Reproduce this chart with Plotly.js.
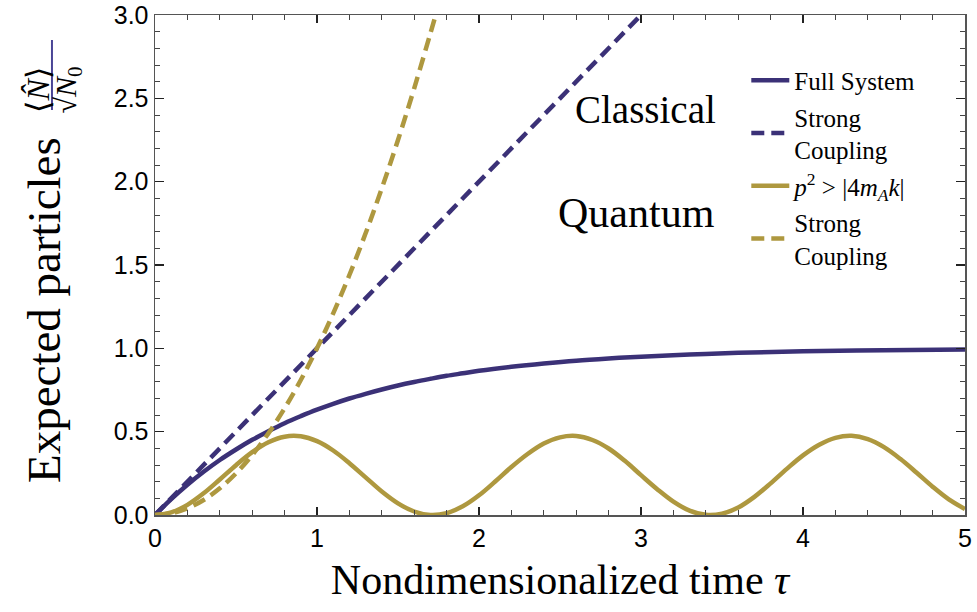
<!DOCTYPE html>
<html>
<head>
<meta charset="utf-8">
<script src="https://cdn.plot.ly/plotly-3.0.1.min.js"></script>
<style>html,body{margin:0;padding:0;background:#fff;}#chart{width:977px;height:612px;}</style>
</head>
<body>
<div id="chart"></div>
<script>
// Full system (classical)
const tauFull = [0,0.1,0.2,0.3,0.4,0.5,0.6,0.7,0.8,0.9,1.0,1.1,1.2,1.3,1.4,1.5,1.6,1.7,1.8,1.9,2.0,2.2,2.4,2.6,2.8,3.0,3.3,3.6,4.0,4.5,5.0];
const nFull   = [0,0.095,0.181,0.259,0.330,0.393,0.451,0.503,0.551,0.593,0.632,0.667,0.699,0.727,0.753,0.777,0.798,0.817,0.835,0.850,0.865,0.889,0.909,0.926,0.939,0.950,0.963,0.973,0.982,0.989,0.993];
// Classical strong coupling
const tauClassStrong = [0,3];
const nClassStrong   = [0,3];
// Quantum p^2 > |4 m_A k|
const tauQuant = [0,0.1,0.2,0.3,0.4,0.5,0.6,0.7,0.8,0.9,1.0,1.1,1.2,1.3,1.4,1.5,1.6,1.7,1.8,1.9,2.0,2.1,2.2,2.3,2.4,2.5,2.6,2.7,2.8,2.9,3.0,3.1,3.2,3.3,3.4,3.5,3.6,3.7,3.8,3.9,4.0,4.1,4.2,4.3,4.4,4.5,4.6,4.7,4.8,4.9,5.0];
const nQuant   = [0,0.016,0.061,0.130,0.213,0.299,0.377,0.437,0.470,0.472,0.443,0.387,0.311,0.226,0.141,0.070,0.021,0.000,0.011,0.052,0.118,0.201,0.288,0.366,0.429,0.466,0.474,0.450,0.399,0.325,0.239,0.155,0.080,0.026,0.001,0.008,0.045,0.109,0.190,0.277,0.358,0.422,0.463,0.475,0.455,0.407,0.337,0.255,0.170,0.094,0.036];
// Quantum strong coupling
const tauQuantStrong = [0,0.1,0.2,0.3,0.4,0.5,0.6,0.7,0.8,0.9,1.0,1.1,1.2,1.3,1.4,1.5,1.6,1.7,1.75];
const nQuantStrong   = [0,0.01,0.04,0.09,0.16,0.25,0.36,0.49,0.64,0.81,1.0,1.21,1.44,1.69,1.96,2.25,2.56,2.89,3.06];

const seriesNames = ['Full System', 'Strong<br>Coupling', '<i>p</i><sup>2</sup> > |4<i>m</i><sub><i>A</i></sub><i>k</i>|', 'Strong<br>Coupling'];

const xTicks = [0,1,2,3,4,5];
const yTicks = [0,0.5,1,1.5,2,2.5,3];
const yTickText = ['0.0','0.5','1.0','1.5','2.0','2.5','3.0'];

const navy = '#3b3177';
const gold = '#ae983f';
const serif = 'Liberation Serif';

const traces = [
  {x: tauFull, y: nFull, mode:'lines', line:{color:navy, width:4.5, shape:'spline'}, name:seriesNames[0], legendgroup:'a'},
  {x: tauClassStrong, y: nClassStrong, mode:'lines', line:{color:navy, width:4.5, dash:'13px,7px'}, name:seriesNames[1], legendgroup:'b'},
  {x: tauQuant, y: nQuant, mode:'lines', line:{color:gold, width:4.5, shape:'spline'}, name:seriesNames[2], legendgroup:'c'},
  {x: tauQuantStrong, y: nQuantStrong, mode:'lines', line:{color:gold, width:4.5, dash:'13px,7px', shape:'spline'}, name:seriesNames[3], legendgroup:'d'}
];

const axisCommon = {
  showgrid:false, zeroline:false, showline:true, linecolor:'#555', linewidth:1.5,
  mirror:'ticks', ticks:'inside', tickcolor:'#222', tickwidth:1.2,
  tickfont:{family:'Liberation Sans', size:25, color:'#000'}
};

const layout = {
  width:977, height:612,
  margin:{l:155, r:12, t:15, b:97},
  paper_bgcolor:'#fff', plot_bgcolor:'#fff',
  font:{family:serif, size:25, color:'#000'},
  showlegend:true,
  legend:{x:0.73, y:0.915, xanchor:'left', yanchor:'top', bgcolor:'rgba(0,0,0,0)',
          font:{family:serif, size:25, color:'#000'}, tracegroupgap:1, itemwidth:38, valign:'middle'},
  xaxis: Object.assign({}, axisCommon, {
    range:[0,5], tickvals:xTicks, ticklen:8,
    minor:{dtick:0.2, ticklen:5, ticks:'inside', tickcolor:'#444', tickwidth:1},
    title:{text:'Nondimensionalized time <i>τ</i>', font:{family:serif, size:42, color:'#000'}, standoff:14}
  }),
  yaxis: Object.assign({}, axisCommon, {
    range:[0,3], tickvals:yTicks, ticktext:yTickText, ticklen:9,
    minor:{dtick:0.1, ticklen:5, ticks:'inside', tickcolor:'#444', tickwidth:1}
  }),
  annotations:[
    {text:'Classical', xref:'paper', yref:'paper', x:0.605, y:0.81, xanchor:'center', yanchor:'middle', showarrow:false, font:{family:serif, size:39, color:'#000'}},
    {text:'Quantum', xref:'paper', yref:'paper', x:0.594, y:0.604, xanchor:'center', yanchor:'middle', showarrow:false, font:{family:serif, size:42, color:'#000'}},
    {text:'Expected particles', xref:'paper', yref:'paper', x:-0.137, y:0.41, xanchor:'center', yanchor:'middle', textangle:-90, showarrow:false, font:{family:serif, size:47, color:'#000'}},
    {text:'⟨<i>N̂</i>⟩', xref:'paper', yref:'paper', x:-0.145, y:0.85, xanchor:'center', yanchor:'middle', textangle:-90, showarrow:false, font:{family:serif, size:32, color:'#000'}},
    {text:'√<i>N</i><sub>0</sub>', xref:'paper', yref:'paper', x:-0.108, y:0.85, xanchor:'center', yanchor:'middle', textangle:-90, showarrow:false, font:{family:serif, size:30, color:'#000'}}
  ],
  shapes:[
    {type:'line', xref:'paper', yref:'paper', x0:-0.1272, x1:-0.1272, y0:0.81, y1:0.95, line:{color:'#4a4596', width:2}}
  ]
};

Plotly.newPlot('chart', traces, layout, {displayModeBar:false, staticPlot:true});
</script>
</body>
</html>
